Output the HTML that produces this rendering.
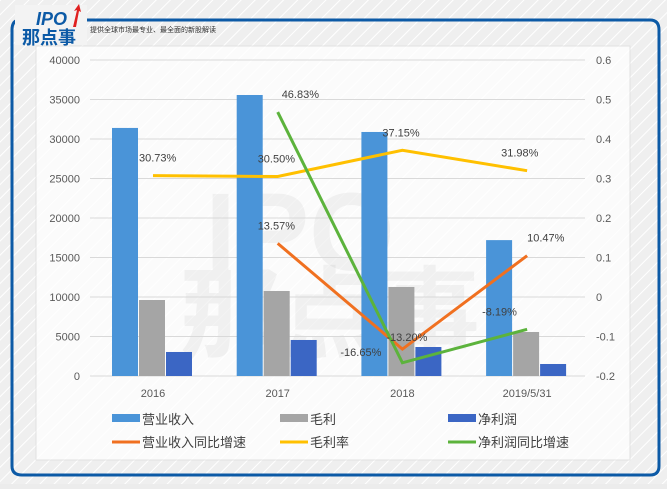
<!DOCTYPE html>
<html><head><meta charset="utf-8"><style>
body{margin:0;width:667px;height:484px;overflow:hidden;background:#ececec;font-family:"Liberation Sans","Noto Sans CJK SC",sans-serif}
</style></head><body>
<svg width="667" height="484" xmlns="http://www.w3.org/2000/svg">
<defs><pattern id="st" width="10" height="10" patternUnits="userSpaceOnUse" patternTransform="rotate(45)"><rect width="10" height="10" fill="#efefef"/><line x1="0" y1="0" x2="0" y2="10" stroke="#fff" stroke-width="2"/></pattern></defs>
<rect width="667" height="484" fill="url(#st)"/>
<path d="M84,20 L20,20 Q12,20 12,30 L12,466 Q12,475 22,475 L650,475 Q659,475 659,466 L659,30 Q659,20 650,20 L86,20" fill="none" stroke="#0c5aa6" stroke-width="3"/>
<rect x="36" y="46" width="594" height="414" fill="#fff" opacity="0.75" stroke="#ddd"/>
<rect x="15" y="5" width="72" height="40" fill="#f3f3f3"/>
<text x="36" y="25" font-size="18" font-weight="bold" font-style="italic" fill="#0c5aa6">IPO</text>
<text x="22" y="44" font-size="18" font-weight="bold" fill="#0c5aa6">那点事</text>
<path d="M73,27 L77,10 L74,11 L79,4 L81,12 L79,11 L76,27Z" fill="#e02020"/>
<text x="90" y="32" font-size="7" fill="#333">提供全球市场最专业、最全面的新股解读</text>
<text x="300" y="270" font-size="110" font-weight="bold" fill="#000" opacity="0.04" text-anchor="middle">IPO</text>
<text x="330" y="350" font-size="100" font-weight="bold" fill="#000" opacity="0.04" text-anchor="middle">那点事</text>
<g id="g"></g>
</svg>
<script>
const categories=["2016","2017","2018","2019/5/31"];
const revenue=[31400,35570,30890,17200];
const gross=[9620,10760,11270,5570];
const net=[3040,4560,3670,1520];
const revGrowth=[null,0.1357,-0.132,0.1047];
const margin=[0.3073,0.305,0.3715,0.3198];
const netGrowth=[null,0.4683,-0.1665,-0.0819];
const leftTicks=[0,5000,10000,15000,20000,25000,30000,35000,40000];
const rightTicks=[-0.2,-0.1,0,0.1,0.2,0.3,0.4,0.5,0.6];
const revLabels=[null,"13.57%","-13.20%","10.47%"];
const marginLabels=["30.73%","30.50%","37.15%","31.98%"];
const netLabels=[null,"46.83%","-16.65%","-8.19%"];
const NS="http://www.w3.org/2000/svg",g=document.getElementById('g');
const yL=v=>376-v/40000*316, yR=v=>376-(v+0.2)/0.8*316, xC=i=>153+i*124.7;
function el(t,a,txt){const e=document.createElementNS(NS,t);for(const k in a)e.setAttribute(k,a[k]);if(txt!=null)e.textContent=txt;g.appendChild(e);return e;}
leftTicks.forEach(v=>{const e=el('line',{x1:90,x2:585,y1:yL(v),y2:yL(v),stroke:'#d9d9d9'});
const t=el('text',{x:80,y:yL(v)+4,'font-size':11,fill:'#595959','text-anchor':'end'},v);});
rightTicks.forEach(v=>{const t=el('text',{x:596,y:yR(v)+4,'font-size':11,fill:'#595959'},String(Math.round(v*10)/10));});
categories.forEach((c,i)=>{const t=el('text',{x:xC(i),y:397,'font-size':11,fill:'#595959','text-anchor':'middle'},c);});
[[revenue,'#4a94d8',-41,'bar-revenue'],[gross,'#a5a5a5',-14,'bar-gross'],[net,'#3b66c4',13,'bar-net']].forEach(([arr,col,off,n])=>arr.forEach((v,i)=>{const r=el('rect',{x:xC(i)+off,y:yL(v),width:26,height:376-yL(v),fill:col});}));
function line(arr,col,n){let d='';arr.forEach((v,i)=>{if(v==null)return;d+=(d?'L':'M')+xC(i)+','+yR(v);});const p=el('path',{d:d,fill:'none',stroke:col,'stroke-width':3});}
line(margin,'#ffc000','line-gross-margin');line(revGrowth,'#f07020','line-revenue-growth');line(netGrowth,'#5cb33c','line-net-growth');
function labels(arr,lab,dx,dy,n){arr.forEach((v,i)=>{if(v==null)return;const t=el('text',{x:xC(i)+dx[i],y:yR(v)+dy[i],'font-size':11,fill:'#404040'},lab[i]);});}
labels(margin,marginLabels,[-14,-20,-20,-26],[-14,-14,-14,-14],'margin-label');
labels(revGrowth,revLabels,[0,-20,-16,0],[0,-14,-8,-14],'revenue-growth-label');
labels(netGrowth,netLabels,[0,4,-62,-45],[0,-14,-7,-14],'net-growth-label');
const leg=[['rect','#4a94d8','营业收入',118,420],['rect','#a5a5a5','毛利',286,420],['rect','#3b66c4','净利润',454,420],['line','#f07020','营业收入同比增速',118,443],['line','#ffc000','毛利率',286,443],['line','#5cb33c','净利润同比增速',454,443]];
leg.forEach(([k,c,t,x,y])=>{const m=k=='rect'?el('rect',{x:x-6,y:y-6,width:28,height:8,fill:c}):el('line',{x1:x-6,x2:x+22,y1:y-1,y2:y-1,stroke:c,'stroke-width':3});
const tx=el('text',{x:x+24,y:y+4,'font-size':13,fill:'#404040'},t);});
</script>
</body></html>
